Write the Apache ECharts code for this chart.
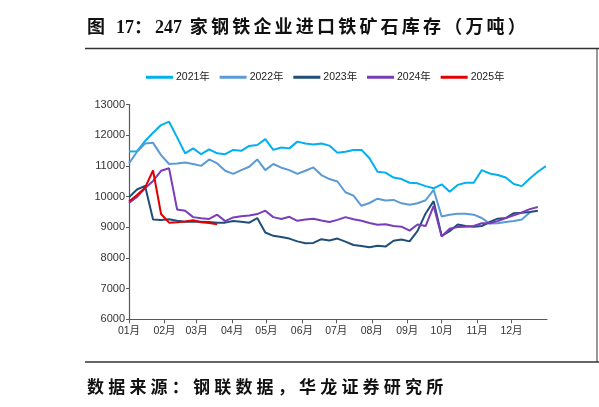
<!DOCTYPE html>
<html>
<head>
<meta charset="utf-8">
<script src="https://cdn.jsdelivr.net/npm/echarts@6/dist/echarts.min.js"></script>
<style>
html,body{margin:0;padding:0;background:#fff;}
#wrap{position:relative;width:599px;height:407px;overflow:hidden;}
#chart{position:absolute;left:0;top:0;width:599px;height:407px;}
.ttl{position:absolute;left:87px;top:12px;font-family:"Liberation Serif","Noto Sans CJK SC",serif;font-weight:bold;font-size:18px;letter-spacing:3.2px;color:#111;white-space:nowrap;}
.ttl .n{letter-spacing:0;}
.src{position:absolute;left:87px;top:373px;font-family:"Liberation Serif","Noto Sans CJK SC",serif;font-weight:bold;font-size:17px;letter-spacing:4.2px;color:#111;white-space:nowrap;}
</style>
</head>
<body>
<div id="wrap">
<div id="chart"></div>
<div class="ttl">图 <span class="n">17</span>：<span class="n">247</span> 家钢铁企业进口铁矿石库存（万吨）</div>
<div class="src">数据来源：钢联数据，华龙证券研究所</div>
</div>
<script>
// Series names (legend)
const seriesNames = ['2021年', '2022年', '2023年', '2024年', '2025年'];
// Weekly readings (10k tonnes), first reading in the first week of January
const v2021 = [11470,11480,11810,12080,12330,12440,11930,11410,11570,11380,11540,11410,11380,11520,11490,11650,11680,11870,11520,11600,11570,11790,11730,11700,11730,11660,11430,11460,11520,11520,11250,10810,10780,10620,10570,10450,10430,10340,10270,10400,10160,10380,10450,10450,10860,10750,10700,10620,10410,10340,10590,10810,10990];
const v2022 = [11080,11460,11730,11750,11350,11060,11080,11110,11060,11000,11210,11080,10840,10740,10860,10970,11210,10860,11060,10940,10860,10740,10840,10950,10700,10570,10490,10140,10030,9700,9790,9930,9870,9890,9780,9730,9780,9880,10220,9350,9410,9440,9440,9410,9300,9120,9130,9170,9200,9250,9480];
const v2023 = [9980,10230,10350,9250,9240,9260,9210,9180,9190,9180,9170,9150,9150,9200,9180,9150,9300,8830,8720,8680,8630,8540,8480,8490,8610,8570,8630,8530,8420,8390,8350,8400,8370,8560,8600,8540,8880,9450,9850,8720,8870,9090,9040,9020,9040,9170,9280,9300,9460,9470,9500,9540];
const v2024 = [9790,9990,10270,10510,10840,10920,9580,9540,9330,9290,9270,9410,9200,9320,9360,9380,9430,9540,9330,9270,9340,9210,9250,9280,9220,9170,9240,9330,9260,9210,9140,9080,9100,9040,9020,8890,9090,9040,9700,8700,8950,9010,9020,9040,9130,9130,9200,9300,9390,9480,9590,9660];
const v2025 = [9840,10050,10290,10850,9430,9150,9160,9190,9230,9160,9140,9100];
const seriesValues = [v2021, v2022, v2023, v2024, v2025];
const seriesColors = ['#00B0F0', '#5B9BD5', '#1F4E79', '#7A3DB8', '#E00000'];
// Y-axis ticks
const yMin = 6000, yMax = 13000, yStep = 1000;

// Common calendar year used to overlay all years
const baseYear = 2021;
function weekDate(i) { return new Date(baseYear, 0, 1 + 7 * i); }

const chart = echarts.init(document.getElementById('chart'), null, {renderer: 'canvas'});
const axisColor = '#595959';
const labelColor = '#333';
const fontFam = '"Liberation Sans", Arial, "Noto Sans CJK SC", sans-serif';

const series = seriesNames.map((name, k) => ({
  name: name,
  type: 'line',
  showSymbol: false,
  symbol: 'none',
  smooth: false,
  lineStyle: {width: 2, color: seriesColors[k]},
  itemStyle: {color: seriesColors[k]},
  data: seriesValues[k].map((v, i) => [weekDate(i), v]),
  z: 2 + k
}));

chart.setOption({
  animation: false,
  backgroundColor: '#fff',
  grid: {left: 129, right: 52, top: 104.5, bottom: 87.7, containLabel: false},
  legend: {
    data: seriesNames,
    left: 146, top: 72, padding: 0,
    icon: 'rect', itemWidth: 27, itemHeight: 3, itemGap: 9.8,
    textStyle: {fontSize: 10.5, color: '#222', fontFamily: fontFam, padding: [0, 0, 0, -2]}
  },
  xAxis: {
    type: 'time',
    min: new Date(baseYear, 0, 1),
    max: new Date(baseYear + 1, 0, 1),
    minInterval: 28 * 86400000,
    maxInterval: 31 * 86400000,
    splitLine: {show: false},
    axisLine: {lineStyle: {color: axisColor, width: 1.2}},
    axisTick: {show: true, length: 4, lineStyle: {color: axisColor}},
    axisLabel: {
      fontSize: 10.5, color: labelColor, fontFamily: fontFam, margin: 7, hideOverlap: false,
      formatter: function (val) {
        const d = new Date(val);
        if (d.getFullYear() !== baseYear) return '';
        return String(d.getMonth() + 1).padStart(2, '0') + '月';
      }
    }
  },
  yAxis: {
    type: 'value', min: yMin, max: yMax, interval: yStep,
    splitLine: {show: false},
    axisLine: {show: true, lineStyle: {color: axisColor, width: 1.2}},
    axisTick: {show: true, length: 3, lineStyle: {color: axisColor}},
    axisLabel: {fontSize: 11, color: labelColor, fontFamily: fontFam, margin: 4,
      formatter: function (v) { return String(v); }}
  },
  graphic: [
    {type: 'line', shape: {x1: 85, y1: 48.5, x2: 599, y2: 48.5}, style: {stroke: '#333', lineWidth: 1.3}},
    {type: 'line', shape: {x1: 85, y1: 362, x2: 599, y2: 362}, style: {stroke: '#333', lineWidth: 1.3}},
    {type: 'line', shape: {x1: 597, y1: 48, x2: 597, y2: 362}, style: {stroke: '#333', lineWidth: 1}}
  ],
  series: series
});
</script>
</body>
</html>
